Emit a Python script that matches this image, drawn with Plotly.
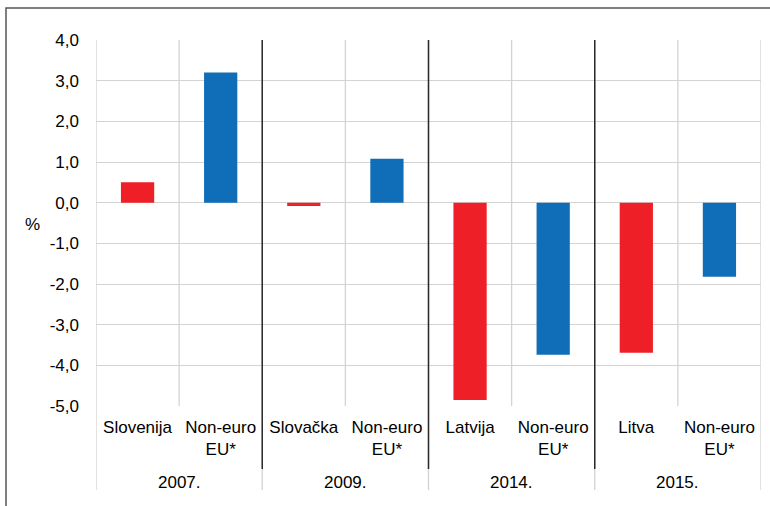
import plotly.graph_objects as go

years = ["2007.", "2009.", "2014.", "2015."]
countries = ["Slovenija", "Slovačka", "Latvija", "Litva"]
noneuro_label = "Non-euro<br>EU*"
country_vals = [0.5, -0.08, -4.85, -3.69]
noneuro_vals = [3.2, 1.08, -3.74, -1.82]
y_ticks = [-5, -4, -3, -2, -1, 0, 1, 2, 3, 4]
y_tick_text = [f"{v:.1f}".replace(".", ",") for v in y_ticks]

RED = "#EE1F26"
BLUE = "#106EB8"
GRID = "#d3d3d3"
FONT = "Liberation Sans, Arial, sans-serif"
FS = 17

cat_keys, cat_text, vals, colors = [], [], [], []
for i, y in enumerate(years):
    cat_keys.append(f"{y}|{countries[i]}")
    cat_text.append(countries[i])
    vals.append(country_vals[i])
    colors.append(RED)
    cat_keys.append(f"{y}|noneuro")
    cat_text.append(noneuro_label)
    vals.append(noneuro_vals[i])
    colors.append(BLUE)

fig = go.Figure()
fig.add_trace(go.Bar(
    x=cat_keys, y=vals, width=0.4,
    marker=dict(color=colors, line=dict(width=0)),
    showlegend=False, hoverinfo="x+y",
))

n = len(cat_keys)
shapes = []
bottom_long = (406 - 490) / 366
bottom_black = (406 - 469) / 366
for k in range(n + 1):
    xb = k - 0.5
    if k % 2 == 0:
        shapes.append(dict(type="line", xref="x", yref="paper", x0=xb, x1=xb,
                           y0=bottom_long, y1=1, line=dict(color=GRID, width=1.3), layer="below"))
        if 0 < k < n:
            shapes.append(dict(type="line", xref="x", yref="paper", x0=xb, x1=xb,
                               y0=bottom_black, y1=1, line=dict(color="#2a2a2a", width=1.5), layer="above"))
    else:
        shapes.append(dict(type="line", xref="x", yref="paper", x0=xb, x1=xb,
                           y0=0, y1=1, line=dict(color=GRID, width=1.3), layer="below"))

shapes.append(dict(type="rect", xref="paper", yref="paper",
                   x0=(6 - 96) / 665, x1=1.1, y0=-0.5, y1=(406 - 8) / 366,
                   line=dict(color="#555555", width=1.5), layer="below"))

annotations = []
for i, y in enumerate(years):
    annotations.append(dict(text=y, xref="x", yref="paper", x=2 * i + 0.5,
                            y=(406 - 482) / 366, showarrow=False,
                            font=dict(family=FONT, size=FS, color="#000"),
                            xanchor="center", yanchor="middle"))
annotations.append(dict(text="%", xref="paper", yref="paper", x=(32 - 96) / 665,
                        y=(406 - 224) / 366, showarrow=False,
                        font=dict(family=FONT, size=FS, color="#000"),
                        xanchor="center", yanchor="middle"))

fig.update_layout(
    width=770, height=506,
    margin=dict(l=96, r=9, t=40, b=100),
    paper_bgcolor="white", plot_bgcolor="white",
    font=dict(family=FONT, size=FS, color="#000"),
    shapes=shapes, annotations=annotations,
    xaxis=dict(type="category", categoryorder="array", categoryarray=cat_keys,
               tickvals=cat_keys, ticktext=cat_text, showgrid=False,
               showline=False, ticks="", zeroline=False, range=[-0.5, n - 0.5],
               tickfont=dict(family=FONT, size=FS, color="#000"), ticklabelstandoff=9),
    yaxis=dict(range=[-5, 4], tickvals=y_ticks, ticktext=y_tick_text,
               showgrid=True, gridcolor=GRID, gridwidth=1.3,
               zeroline=True, zerolinecolor=GRID, zerolinewidth=1.3,
               showline=False, ticks="", ticklabelstandoff=16,
               tickfont=dict(family=FONT, size=FS, color="#000")),
)

fig.write_html("out.html")
